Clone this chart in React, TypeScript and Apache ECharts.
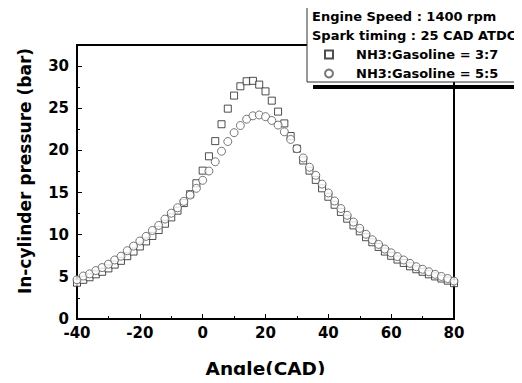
import React, { useEffect, useRef } from "react";
import * as echarts from "echarts";

const angles: number[] = [
  -40, -38, -36, -34, -32, -30, -28, -26, -24, -22, -20, -18, -16, -14, -12, -10, -8, -6, -4, -2,
  0, 2, 4, 6, 8, 10, 12, 14, 16, 18, 20, 22, 24, 26, 28, 30, 32, 34, 36, 38,
  40, 42, 44, 46, 48, 50, 52, 54, 56, 58, 60, 62, 64, 66, 68, 70, 72, 74, 76, 78, 80,
];

const ratio37: number[] = [
  4.3, 4.65, 4.95, 5.3, 5.6, 6.0, 6.45, 6.9, 7.45, 8.0, 8.6, 9.2, 9.85, 10.55, 11.3, 12.05, 12.85, 13.75, 14.8, 16.1,
  17.6, 19.3, 21.1, 23.1, 24.95, 26.5, 27.6, 28.2, 28.25, 27.8, 27.0, 25.9, 24.6, 23.2, 21.7, 20.2, 18.8, 17.6, 16.5, 15.5,
  14.5, 13.55, 12.7, 11.9, 11.1, 10.4, 9.7, 9.1, 8.55, 8.0, 7.5, 7.05, 6.65, 6.25, 5.9, 5.6, 5.3, 5.05, 4.8, 4.55, 4.25,
];

const ratio55: number[] = [
  4.65, 5.1, 5.35, 5.75, 6.1, 6.5, 7.0, 7.45, 8.1, 8.65, 9.25, 9.8, 10.5, 11.1, 11.85, 12.55, 13.2, 13.95, 14.7, 15.5,
  16.45, 17.55, 18.65, 19.9, 21.05, 22.1, 22.95, 23.7, 24.1, 24.2, 24.0, 23.55, 23.0, 22.2, 21.3, 20.2, 19.1, 18.0, 17.05, 16.0,
  14.95, 14.0, 13.1, 12.3, 11.5, 10.75, 10.05, 9.4, 8.85, 8.3, 7.85, 7.4, 7.0, 6.6, 6.2, 5.9, 5.6, 5.3, 5.05, 4.8, 4.5,
];

const seriesNames: string[] = ["NH3:Gasoline = 3:7", "NH3:Gasoline = 5:5"];
const headerLines: string[] = ["Engine Speed : 1400 rpm", "Spark timing : 25 CAD ATDC"];
const xTitle = "Angle(CAD)";
const yTitle = "In-cylinder pressure (bar)";

const FONT = "'DejaVu Sans', Verdana, sans-serif";

export default function App() {
  const ref = useRef<HTMLDivElement>(null);
  useEffect(() => {
    if (!ref.current) return;
    const chart = echarts.init(ref.current, null, { renderer: "svg" });
    const option: any = {
      animation: false,
      backgroundColor: "#fff",
      grid: {
        left: 77,
        right: 68,
        top: 45,
        bottom: 60,
        show: true,
        borderColor: "#000",
        borderWidth: 2,
        backgroundColor: "transparent",
      },
      legend: {
        orient: "vertical",
        left: 324,
        top: 48,
        padding: 0,
        itemWidth: 8,
        itemHeight: 8,
        itemGap: 6,
        data: seriesNames,
        textStyle: {
          fontFamily: FONT,
          fontWeight: "bold",
          fontSize: 13,
          color: "#000",
          padding: [0, 0, 0, 18],
        },
        z: 20,
      },
      xAxis: {
        type: "value",
        min: -40,
        max: 80,
        interval: 20,
        name: xTitle,
        nameLocation: "middle",
        nameGap: 40,
        nameTextStyle: { fontFamily: FONT, fontWeight: "bold", fontSize: 18.5, color: "#000" },
        axisLine: { show: true, onZero: false, lineStyle: { color: "#000", width: 2 } },
        axisTick: { show: true, inside: true, length: 5, lineStyle: { color: "#000", width: 1 } },
        minorTick: { show: true, splitNumber: 2, length: 3, lineStyle: { color: "#000", width: 1 } },
        splitLine: { show: false },
        axisLabel: {
          fontFamily: FONT,
          fontWeight: "bold",
          fontSize: 15,
          color: "#000",
          margin: 6,
        },
      },
      yAxis: {
        type: "value",
        min: 0,
        max: 32.5,
        interval: 5,
        axisLine: { show: true, onZero: false, lineStyle: { color: "#000", width: 2 } },
        axisTick: { show: true, inside: true, length: 5, lineStyle: { color: "#000", width: 1 } },
        minorTick: { show: true, splitNumber: 2, length: 3, lineStyle: { color: "#000", width: 1 } },
        splitLine: { show: false },
        axisLabel: {
          fontFamily: FONT,
          fontWeight: "bold",
          fontSize: 15,
          color: "#000",
          margin: 8,
          formatter: (v: number) => (v % 5 === 0 ? String(v) : ""),
        },
      },
      series: [
        {
          name: seriesNames[0],
          type: "scatter",
          symbol: "rect",
          symbolSize: 7,
          data: angles.map((a, i) => [a, ratio37[i]]),
          itemStyle: { color: "#fff", borderColor: "#222", borderWidth: 1 },
          z: 2,
        },
        {
          name: seriesNames[1],
          type: "scatter",
          symbol: "circle",
          symbolSize: 8,
          data: angles.map((a, i) => [a, ratio55[i]]),
          itemStyle: { color: "#fff", borderColor: "#555", borderWidth: 1 },
          z: 3,
        },
      ],
      graphic: [
        {
          type: "rect",
          shape: { x: 313, y: 85, width: 220, height: 4 },
          style: { fill: "#000" },
          z: 10,
        },
        {
          type: "rect",
          shape: { x: 307, y: -2, width: 230, height: 84 },
          style: { fill: "#fff", stroke: "#333", lineWidth: 1 },
          z: 11,
        },
        {
          type: "text",
          x: 312,
          y: 16,
          style: {
            text: headerLines[0],
            fontFamily: FONT,
            fontWeight: "bold",
            fontSize: 13,
            fill: "#000",
            verticalAlign: "middle",
          },
          z: 12,
        },
        {
          type: "text",
          x: 312,
          y: 35,
          style: {
            text: headerLines[1],
            fontFamily: FONT,
            fontWeight: "bold",
            fontSize: 13,
            fill: "#000",
            verticalAlign: "middle",
          },
          z: 12,
        },
        {
          type: "text",
          x: 25,
          y: 171,
          rotation: Math.PI / 2,
          style: {
            text: yTitle,
            fontFamily: FONT,
            fontWeight: "bold",
            fontSize: 17,
            fill: "#000",
            align: "center",
            verticalAlign: "middle",
          },
          z: 12,
        },
      ],
    };
    chart.setOption(option);
    return () => chart.dispose();
  }, []);
  return <div ref={ref} style={{ width: 522, height: 383, margin: -8 }} />;
}
